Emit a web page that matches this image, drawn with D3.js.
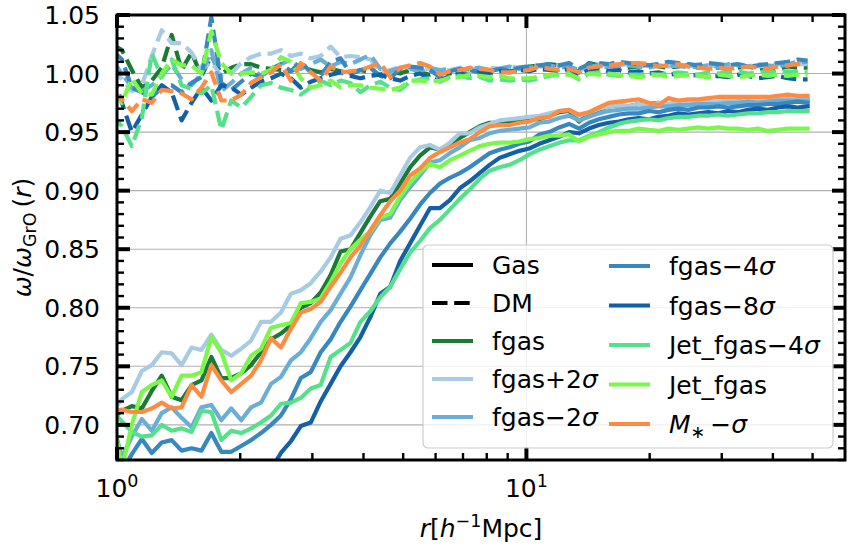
<!DOCTYPE html>
<html>
<head>
<meta charset="utf-8">
<script src="https://cdn.jsdelivr.net/npm/d3@7"></script>
<style>
  body { margin: 0; background: #fff; }
  svg { display: block; font-family: 'DejaVu Sans', sans-serif; }
</style>
</head>
<body>
<svg id="chart" width="850" height="550"></svg>
<script>
// bin centres, r in h^-1 Mpc
const radius = [
  0.972, 1.028, 1.087, 1.150, 1.216, 1.286, 1.360, 1.438, 1.521, 1.608,
  1.700, 1.798, 1.901, 2.011, 2.126, 2.248, 2.378, 2.514, 2.659, 2.811,
  2.973, 3.144, 3.325, 3.516, 3.718, 3.931, 4.157, 4.396, 4.649, 4.916,
  5.199, 5.497, 5.813, 6.148, 6.501, 6.875, 7.269, 7.687, 8.129, 8.596,
  9.091, 9.614, 10.165, 10.750, 11.368, 12.023, 12.713, 13.444, 14.218, 15.031,
  15.896, 16.810, 17.775, 18.797, 19.878, 21.022, 22.231, 23.509, 24.861, 26.291,
  27.797, 29.396, 31.083, 32.871, 34.762, 36.758, 38.866, 41.107, 43.458, 45.959,
  48.611
];

const modelNames  = ['fgas', 'fgas+2σ', 'fgas−2σ', 'fgas−4σ', 'fgas−8σ', 'Jet_fgas−4σ', 'Jet_fgas', 'M*−σ'];
const modelColors = ['#1b7a35', '#a8cbe4', '#6aaed6', '#3787c0', '#135fa8', '#55e08a', '#7af74a', '#fd8c42'];

// gas (solid lines)
const gasFgas = [
  0.705, 0.712, 0.716, 0.714, 0.729, 0.742, 0.724, 0.721, 0.734, 0.738,
  0.758, 0.740, 0.740, 0.744, 0.751, 0.762, 0.773, 0.778, 0.785, 0.800,
  0.804, 0.813, 0.828, 0.848, 0.850, 0.864, 0.878, 0.891, 0.893, 0.906,
  0.920, 0.930, 0.937, 0.935, 0.940, 0.945, 0.950, 0.955, 0.958, 0.958,
  0.959, 0.960, 0.961, 0.961, 0.964, 0.967, 0.968, 0.959, 0.966, 0.969,
  0.972, 0.973, 0.972, 0.974, 0.974, 0.975, 0.974, 0.975, 0.975, 0.976,
  0.975, 0.975, 0.976, 0.976, 0.977, 0.976, 0.977, 0.977, 0.978, 0.977,
  0.977
];
const gasFgasPlus2 = [
  0.711, 0.722, 0.728, 0.746, 0.751, 0.762, 0.761, 0.751, 0.766, 0.764,
  0.777, 0.764, 0.759, 0.765, 0.772, 0.788, 0.788, 0.796, 0.812, 0.815,
  0.821, 0.831, 0.843, 0.859, 0.862, 0.873, 0.886, 0.900, 0.898, 0.913,
  0.928, 0.937, 0.939, 0.935, 0.941, 0.949, 0.949, 0.954, 0.957, 0.960,
  0.961, 0.962, 0.963, 0.964, 0.966, 0.968, 0.969, 0.964, 0.967, 0.970,
  0.972, 0.973, 0.972, 0.974, 0.973, 0.975, 0.974, 0.975, 0.976, 0.975,
  0.976, 0.976, 0.977, 0.976, 0.977, 0.977, 0.977, 0.978, 0.978, 0.978,
  0.978
];
const gasFgasMinus2 = [
  0.705, 0.672, 0.690, 0.705, 0.695, 0.710, 0.715, 0.706, 0.698, 0.715,
  0.717, 0.704, 0.714, 0.704, 0.715, 0.719, 0.735, 0.741, 0.755, 0.762,
  0.774, 0.788, 0.798, 0.812, 0.826, 0.845, 0.862, 0.875, 0.877, 0.892,
  0.903, 0.913, 0.924, 0.926, 0.932, 0.937, 0.943, 0.945, 0.949, 0.951,
  0.952, 0.953, 0.954, 0.958, 0.959, 0.962, 0.964, 0.960, 0.963, 0.966,
  0.968, 0.969, 0.970, 0.970, 0.971, 0.972, 0.972, 0.973, 0.973, 0.974,
  0.974, 0.974, 0.975, 0.975, 0.976, 0.975, 0.976, 0.977, 0.977, 0.977,
  0.977
];
const gasFgasMinus4 = [
  0.690, 0.660, 0.675, 0.688, 0.676, 0.685, 0.687, 0.678, 0.680, 0.678,
  0.693, 0.677, 0.677, 0.682, 0.687, 0.693, 0.700, 0.708, 0.722, 0.740,
  0.745, 0.762, 0.773, 0.788, 0.801, 0.815, 0.829, 0.843, 0.855, 0.865,
  0.876, 0.888, 0.898, 0.906, 0.911, 0.915, 0.920, 0.926, 0.932, 0.935,
  0.937, 0.940, 0.942, 0.948, 0.950, 0.954, 0.957, 0.953, 0.958, 0.961,
  0.963, 0.965, 0.966, 0.966, 0.968, 0.967, 0.969, 0.970, 0.969, 0.971,
  0.971, 0.972, 0.971, 0.972, 0.973, 0.973, 0.974, 0.974, 0.975, 0.976,
  0.975
];
const gasFgasMinus8 = [
  null, null, null, null, null, null, null, null, null, null,
  null, null, null, null, null, null, 0.662, 0.676, 0.686, 0.699,
  0.702, 0.720, 0.735, 0.750, 0.762, 0.775, 0.792, 0.812, 0.818, 0.840,
  0.855, 0.870, 0.885, 0.885, 0.892, 0.902, 0.908, 0.915, 0.922, 0.928,
  0.931, 0.934, 0.936, 0.940, 0.943, 0.946, 0.950, 0.949, 0.953, 0.956,
  0.958, 0.959, 0.961, 0.962, 0.961, 0.963, 0.964, 0.966, 0.965, 0.966,
  0.967, 0.966, 0.968, 0.967, 0.969, 0.970, 0.969, 0.971, 0.972, 0.971,
  0.972
];
const gasJetMinus4 = [
  0.712, 0.703, 0.694, 0.690, 0.691, 0.700, 0.695, 0.697, 0.694, 0.712,
  0.711, 0.687, 0.695, 0.693, 0.697, 0.702, 0.708, 0.718, 0.719, 0.723,
  0.731, 0.734, 0.758, 0.764, 0.770, 0.788, 0.797, 0.809, 0.818, 0.833,
  0.847, 0.857, 0.868, 0.875, 0.884, 0.893, 0.901, 0.910, 0.917, 0.920,
  0.922, 0.926, 0.931, 0.935, 0.938, 0.941, 0.943, 0.943, 0.947, 0.950,
  0.954, 0.957, 0.959, 0.960, 0.961, 0.960, 0.962, 0.963, 0.963, 0.964,
  0.964, 0.965, 0.964, 0.965, 0.966, 0.966, 0.967, 0.967, 0.968, 0.968,
  0.968
];
const gasJet = [
  0.712, 0.662, 0.700, 0.728, 0.734, 0.738, 0.724, 0.742, 0.742, 0.745,
  0.775, 0.762, 0.738, 0.744, 0.759, 0.765, 0.783, 0.785, 0.787, 0.804,
  0.805, 0.808, 0.822, 0.838, 0.850, 0.858, 0.865, 0.877, 0.880, 0.895,
  0.907, 0.916, 0.923, 0.920, 0.926, 0.930, 0.934, 0.938, 0.940, 0.941,
  0.941, 0.942, 0.944, 0.945, 0.947, 0.947, 0.948, 0.942, 0.946, 0.948,
  0.950, 0.951, 0.951, 0.953, 0.952, 0.951, 0.953, 0.952, 0.953, 0.954,
  0.953, 0.954, 0.953, 0.953, 0.952, 0.953, 0.951, 0.952, 0.953, 0.953,
  0.953
];
const gasMstar = [
  0.712, 0.713, 0.711, 0.711, 0.714, 0.719, 0.714, 0.715, 0.734, 0.724,
  0.751, 0.738, 0.728, 0.735, 0.742, 0.755, 0.774, 0.766, 0.782, 0.796,
  0.799, 0.805, 0.818, 0.830, 0.843, 0.853, 0.866, 0.879, 0.891, 0.900,
  0.913, 0.919, 0.928, 0.933, 0.937, 0.941, 0.944, 0.950, 0.955, 0.956,
  0.956, 0.958, 0.959, 0.962, 0.963, 0.968, 0.969, 0.965, 0.967, 0.971,
  0.975, 0.976, 0.977, 0.978, 0.975, 0.973, 0.979, 0.977, 0.978, 0.978,
  0.979, 0.980, 0.980, 0.980, 0.980, 0.980, 0.980, 0.981, 0.982, 0.981,
  0.981
];

// dark matter (dashed lines)
const dmFgas = [
  1.025, 1.020, 1.003, 0.988, 0.994, 1.005, 1.033, 1.003, 1.018, 0.998,
  1.015, 1.000, 1.005, 1.008, 1.008, 1.005, 1.004, 1.003, 1.002, 1.006,
  1.003, 1.001, 1.004, 1.002, 1.000, 1.003, 1.001, 0.999, 1.002, 1.000,
  1.003, 1.001, 0.999, 1.002, 1.000, 1.003, 1.004, 1.002, 1.003, 1.004,
  1.002, 1.003, 1.006, 1.007, 1.008, 1.007, 1.005, 1.001, 1.009, 1.007,
  1.006, 1.007, 1.005, 1.006, 1.007, 1.006, 1.005, 1.006, 1.007, 1.005,
  1.006, 1.005, 1.004, 1.005, 1.006, 1.004, 1.005, 1.004, 1.006, 1.005,
  1.005
];
const dmFgasPlus2 = [
  1.005, 0.995, 0.985, 0.990, 1.015, 1.037, 1.026, 1.026, 1.018, 1.003,
  1.010, 0.998, 1.000, 1.009, 1.014, 1.017, 1.017, 1.020, 1.015, 1.017,
  1.013, 1.015, 1.023, 1.014, 1.015, 1.014, 1.012, 1.001, 1.003, 1.006,
  1.005, 1.003, 1.004, 1.002, 1.003, 1.005, 1.004, 1.003, 1.005, 1.004,
  1.006, 1.005, 1.007, 1.006, 1.008, 1.007, 1.006, 1.002, 1.007, 1.008,
  1.006, 1.007, 1.008, 1.006, 1.007, 1.008, 1.006, 1.007, 1.006, 1.008,
  1.007, 1.006, 1.007, 1.008, 1.007, 1.006, 1.007, 1.008, 1.007, 1.008,
  1.008
];
const dmFgasMinus2 = [
  1.012, 1.000, 0.988, 0.985, 0.990, 0.998, 1.008, 0.995, 0.990, 1.000,
  1.020, 0.985, 0.992, 1.000, 1.005, 0.998, 1.003, 1.008, 1.012, 1.004,
  1.008, 1.012, 1.006, 1.010, 1.008, 1.012, 1.016, 1.004, 1.002, 1.005,
  1.004, 1.002, 1.005, 1.003, 1.004, 1.002, 1.004, 1.005, 1.003, 1.004,
  1.006, 1.004, 1.005, 1.006, 1.007, 1.005, 1.006, 1.003, 1.006, 1.007,
  1.005, 1.006, 1.007, 1.006, 1.005, 1.007, 1.006, 1.007, 1.005, 1.006,
  1.007, 1.006, 1.008, 1.007, 1.006, 1.008, 1.007, 1.006, 1.008, 1.010,
  1.010
];
const dmFgasMinus4 = [
  1.020, 1.012, 0.988, 0.984, 0.980, 0.988, 0.990, 0.984, 0.992, 0.997,
  1.048, 0.992, 0.986, 0.993, 1.000, 0.997, 1.004, 1.008, 1.002, 1.010,
  1.001, 0.998, 1.010, 1.013, 1.000, 1.003, 1.005, 0.998, 0.996, 1.004,
  1.006, 1.005, 1.003, 0.997, 1.002, 1.004, 1.003, 1.001, 1.002, 1.004,
  1.003, 1.005, 1.006, 1.007, 1.008, 1.007, 1.009, 1.004, 1.008, 1.009,
  1.008, 1.010, 1.009, 1.008, 1.007, 1.008, 1.010, 1.009, 1.008, 1.007,
  1.009, 1.008, 1.007, 1.008, 1.006, 1.007, 1.008, 1.009, 1.010, 1.012,
  1.011
];
const dmFgasMinus8 = [
  1.000, 0.975, 0.950, 0.965, 0.980, 0.990, 0.984, 0.960, 0.975, 0.988,
  0.977, 0.990, 0.988, 0.982, 0.988, 0.993, 0.996, 1.000, 0.996, 0.988,
  0.993, 0.996, 0.999, 1.001, 0.998, 0.996, 0.998, 0.999, 0.996, 0.994,
  0.998, 1.000, 0.996, 0.994, 0.998, 1.000, 0.999, 1.001, 1.000, 1.002,
  1.001, 1.003, 1.002, 1.004, 1.003, 1.002, 1.004, 0.999, 1.003, 1.004,
  1.002, 1.003, 1.001, 1.002, 1.000, 1.001, 0.999, 1.000, 0.998, 0.999,
  0.997, 0.998, 0.997, 0.999, 0.998, 0.996, 0.997, 0.998, 0.996, 0.995,
  0.995
];
const dmJetMinus4 = [
  0.965, 0.955, 0.938, 0.962, 1.017, 0.997, 1.012, 0.990, 0.987, 0.983,
  0.990, 0.952, 0.977, 0.971, 0.980, 0.990, 0.992, 0.988, 0.986, 0.982,
  0.988, 0.994, 0.990, 0.994, 0.992, 0.984, 0.990, 0.993, 0.988, 0.986,
  0.993, 0.995, 0.996, 0.993, 0.997, 0.998, 0.996, 0.997, 0.994, 0.995,
  0.994, 0.995, 0.994, 0.996, 0.998, 0.999, 1.000, 0.995, 1.000, 1.001,
  0.999, 0.998, 0.999, 0.999, 1.000, 0.999, 1.000, 1.001, 1.000, 0.999,
  1.001, 1.000, 1.001, 1.002, 1.000, 1.001, 1.002, 1.001, 1.002, 1.001,
  1.001
];
const dmJet = [
  0.985, 0.975, 0.996, 0.983, 0.982, 1.000, 1.012, 1.007, 1.007, 1.000,
  1.036, 1.009, 1.000, 1.000, 1.001, 1.000, 1.003, 1.014, 1.010, 0.996,
  0.988, 0.990, 0.994, 0.988, 0.990, 0.990, 0.988, 0.987, 0.986, 0.988,
  0.994, 0.994, 0.993, 0.994, 0.996, 0.997, 0.999, 0.998, 0.997, 0.998,
  0.996, 0.996, 0.996, 0.997, 0.999, 0.999, 0.999, 0.996, 1.000, 0.999,
  1.000, 0.999, 0.998, 0.997, 0.998, 0.999, 0.997, 0.998, 0.999, 0.998,
  0.997, 0.999, 0.998, 0.997, 0.998, 0.999, 0.998, 0.999, 0.998, 0.999,
  0.999
];
const dmMstar = [
  0.985, 0.978, 0.968, 0.978, 0.975, 0.986, 0.985, 0.983, 0.978, 0.988,
  1.001, 0.977, 0.977, 0.982, 0.992, 0.997, 1.001, 1.008, 0.994, 1.009,
  1.001, 0.994, 1.006, 1.001, 1.002, 1.003, 1.006, 1.009, 0.997, 1.005,
  1.007, 1.009, 1.006, 0.999, 1.002, 1.003, 1.005, 1.004, 1.003, 1.001,
  1.001, 1.002, 1.003, 1.006, 1.004, 1.003, 1.004, 1.001, 1.005, 1.006,
  1.007, 1.008, 1.009, 1.009, 1.008, 1.006, 1.007, 1.008, 1.006, 1.005,
  1.004, 1.005, 1.004, 1.005, 1.006, 1.005, 1.004, 1.006, 1.007, 1.008,
  1.008
];

const yMajor = [0.70, 0.75, 0.80, 0.85, 0.90, 0.95, 1.00, 1.05];
const xMajor = [1, 10];
const xMinor = [2, 3, 4, 5, 6, 7, 8, 9, 20, 30, 40, 50];

const gasSeries = [gasFgas, gasFgasPlus2, gasFgasMinus2, gasFgasMinus4, gasFgasMinus8, gasJetMinus4, gasJet, gasMstar];
const dmSeries  = [dmFgas, dmFgasPlus2, dmFgasMinus2, dmFgasMinus4, dmFgasMinus8, dmJetMinus4, dmJet, dmMstar];

const FS   = 25;
const LW   = 4.2;
const DASH = '15.5,6.7';

const svg = d3.select('#chart');
const x = d3.scaleLog().domain([1, 60]).range([117, 845]);
const y = d3.scaleLinear().domain([0.67, 1.05]).range([460, 15]);
const [x0, x1] = x.range();
const [y0, y1] = y.range();

svg.append('defs').append('clipPath').attr('id', 'plot-clip')
  .append('rect')
    .attr('x', x0).attr('y', y1)
    .attr('width', x1 - x0).attr('height', y0 - y1);

// grid
const grid = svg.append('g').attr('stroke', '#b0b0b0').attr('stroke-width', 1.1);
grid.selectAll('.hgrid').data(yMajor).enter().append('line')
  .attr('x1', x0).attr('x2', x1)
  .attr('y1', d => y(d)).attr('y2', d => y(d));
grid.selectAll('.vgrid').data(xMajor).enter().append('line')
  .attr('x1', d => x(d)).attr('x2', d => x(d))
  .attr('y1', y1).attr('y2', y0);

// curves
const line = d3.line()
  .defined(d => d[1] != null)
  .x(d => x(d[0]))
  .y(d => y(d[1]));

const plot = svg.append('g').attr('clip-path', 'url(#plot-clip)')
  .attr('fill', 'none')
  .attr('stroke-width', LW)
  .attr('stroke-linejoin', 'round');

modelNames.forEach((name, i) => {
  plot.append('path')
    .datum(radius.map((r, k) => [r, gasSeries[i][k]]))
    .attr('stroke', modelColors[i])
    .attr('stroke-linecap', 'square')
    .attr('d', line);
  plot.append('path')
    .datum(radius.map((r, k) => [r, dmSeries[i][k]]))
    .attr('stroke', modelColors[i])
    .attr('stroke-dasharray', DASH)
    .attr('d', line);
});

// spines and ticks (inward, on all four sides)
const axes = svg.append('g').attr('stroke', '#000');
axes.append('rect')
  .attr('x', x0).attr('y', y1)
  .attr('width', x1 - x0).attr('height', y0 - y1)
  .attr('fill', 'none').attr('stroke-width', 3);

const yMinor = d3.range(67, 106).filter(v => v % 5 !== 0).map(v => v / 100);

function yTicks(values, len, width) {
  values.forEach(v => {
    axes.append('line').attr('stroke-width', width)
      .attr('x1', x0).attr('x2', x0 + len).attr('y1', y(v)).attr('y2', y(v));
    axes.append('line').attr('stroke-width', width)
      .attr('x1', x1).attr('x2', x1 - len).attr('y1', y(v)).attr('y2', y(v));
  });
}
function xTicks(values, len, width) {
  values.forEach(v => {
    axes.append('line').attr('stroke-width', width)
      .attr('x1', x(v)).attr('x2', x(v)).attr('y1', y0).attr('y2', y0 - len);
    axes.append('line').attr('stroke-width', width)
      .attr('x1', x(v)).attr('x2', x(v)).attr('y1', y1).attr('y2', y1 + len);
  });
}
yTicks(yMajor, 13, 4);
yTicks(yMinor, 7, 2.4);
xTicks(xMajor, 13, 4);
xTicks(xMinor, 7, 2.4);

// tick labels
const labels = svg.append('g').attr('font-size', FS).attr('fill', '#000');
labels.selectAll('.ylab').data(yMajor).enter().append('text')
  .attr('x', 100).attr('y', d => y(d) + 9)
  .attr('text-anchor', 'end')
  .text(d3.format('.2f'));

xMajor.forEach(v => {
  const t = labels.append('text')
    .attr('x', x(v)).attr('y', 497)
    .attr('text-anchor', 'middle');
  t.append('tspan').text('10');
  t.append('tspan').attr('font-size', FS * 0.7).attr('dy', -10).text(Math.round(Math.log10(v)));
});

// axis titles
const xt = labels.append('text')
  .attr('x', (x0 + x1) / 2).attr('y', 537)
  .attr('text-anchor', 'middle');
xt.append('tspan').attr('font-style', 'italic').text('r');
xt.append('tspan').text('[');
xt.append('tspan').attr('font-style', 'italic').text('h');
xt.append('tspan').attr('font-size', FS * 0.7).attr('dy', -10).text('−1');
xt.append('tspan').attr('dy', 10).text('Mpc]');

const yt = labels.append('text')
  .attr('transform', `translate(31, ${(y0 + y1) / 2}) rotate(-90)`)
  .attr('text-anchor', 'middle');
yt.append('tspan').attr('font-style', 'italic').text('ω');
yt.append('tspan').text('/');
yt.append('tspan').attr('font-style', 'italic').text('ω');
yt.append('tspan').attr('font-size', FS * 0.7).attr('dy', 5).text('GrO');
yt.append('tspan').attr('dy', -5).text('\u2009(');
yt.append('tspan').attr('font-style', 'italic').text('r');
yt.append('tspan').text(')');

// legend
const legendItems = [
  { parts: [['Gas', '']], color: '#000', dash: null },
  { parts: [['DM', '']], color: '#000', dash: DASH },
  ...modelNames.map((name, i) => ({ parts: labelParts(name), color: modelColors[i], dash: null }))
];

function labelParts(name) {
  if (name === 'M*−σ') return [['M', 'i'], ['∗', 'sub'], ['\u2009−', ''], ['σ', 'i']];
  if (name.endsWith('σ')) return [[name.slice(0, -1), ''], ['σ', 'i']];
  return [[name, '']];
}

const legend = svg.append('g');
legend.append('rect')
  .attr('x', 423).attr('y', 245)
  .attr('width', 410).attr('height', 203)
  .attr('rx', 5)
  .attr('fill', '#fff').attr('fill-opacity', 0.8)
  .attr('stroke', '#cccccc').attr('stroke-width', 1.2);

legendItems.forEach((item, i) => {
  const col = Math.floor(i / 5), row = i % 5;
  const hx = col === 0 ? 432 : 609;
  const hy = col === 0 ? 265 + row * 38 : 266 + row * 39.5;
  const g = legend.append('g');
  g.append('line')
    .attr('x1', hx).attr('x2', hx + 41)
    .attr('y1', hy).attr('y2', hy)
    .attr('stroke', item.color)
    .attr('stroke-width', LW)
    .attr('stroke-dasharray', item.dash);
  const t = g.append('text')
    .attr('x', hx + 60).attr('y', hy + 9)
    .attr('font-size', FS);
  item.parts.forEach(([s, style]) => {
    const sp = t.append('tspan').text(s);
    if (style === 'i') sp.attr('font-style', 'italic');
    if (style === 'sub') sp.attr('font-size', FS * 0.7).attr('dy', 5);
    if (style === '' && t.selectAll('tspan').size() > 1 && item.parts.some(p => p[1] === 'sub')) sp.attr('dy', -5);
  });
});
</script>
</body>
</html>
